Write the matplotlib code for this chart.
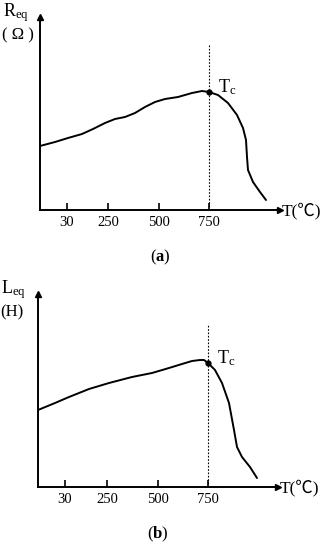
import matplotlib.pyplot as plt

plt.rcParams['font.family'] = ['Liberation Serif', 'Noto Sans CJK SC']
plt.rcParams['mathtext.fontset'] = 'custom'
plt.rcParams['mathtext.rm'] = 'Liberation Serif'
plt.rcParams['mathtext.bf'] = 'Liberation Serif:bold'

# schematic curves (position units along the axes, arbitrary height)
tick_pos_a = [27, 68, 119, 169]
tick_pos_b = [27, 69, 120, 170]
tick_labels = ['30', '250', '500', '750']

r_x = [0, 15, 28, 42, 53, 65, 75, 85, 95, 105, 115, 125, 138, 152, 162, 169,
       178, 188, 197, 203, 206, 207, 208, 213, 220, 226]
r_y = [64, 68, 72, 76, 81, 87, 91, 93, 97, 103, 108, 111, 113, 117, 119, 118,
       115, 107, 95, 82, 70, 53, 40, 28, 18, 10]
r_tc = (169, 118)

l_x = [0, 17, 31, 51, 71, 94, 114, 131, 144, 154, 162, 166, 170,
       177, 184, 191, 196, 199, 204, 212, 219]
l_y = [77, 84, 90, 98, 104, 110, 114, 119, 123, 126, 127, 127, 124,
       117, 104, 84, 57, 40, 30, 20, 9]
l_tc = (170, 124)

panels = [
    # origin_px, curve, Tc, ticks, ylabel, unit, caption, dotted top
    ((40, 210), r_x, r_y, r_tc, tick_pos_a, r'$\mathrm{R_{eq}}$', '( Ω )', 'a', 165),
    ((38, 487), l_x, l_y, l_tc, tick_pos_b, r'$\mathrm{L_{eq}}$', '(H)', 'b', 163),
]

W, H = 320, 550
fig = plt.figure(figsize=(3.2, 5.5), dpi=100)

for (ox, oy), xs, ys, tc, ticks, ylab, unit, cap, dtop in panels:
    ax = fig.add_axes([ox / W, (H - oy) / H, 240 / W, 193 / H])
    ax.set_xlim(0, 240)
    ax.set_ylim(0, 193)
    for s in ['top', 'right']:
        ax.spines[s].set_visible(False)
    for s in ['left', 'bottom']:
        ax.spines[s].set_linewidth(1.4)
    ax.plot(1, 0, '>k', ms=5, transform=ax.get_yaxis_transform(), clip_on=False)
    ax.plot(0, 1, '^k', ms=5, transform=ax.get_xaxis_transform(), clip_on=False)

    ax.plot(xs, ys, color='black', lw=1.4, solid_joinstyle='round', solid_capstyle='round')
    ax.plot([tc[0], tc[0]], [0, dtop], color='black', lw=0.8, ls=(0, (1.5, 1.5)))
    ax.plot(tc[0], tc[1], 'o', color='black', ms=3.5)
    ax.text(tc[0] + 9, tc[1] + 5, r'$\mathrm{T_c}$', fontsize=13, va='center', ha='left')

    ax.set_xticks(ticks)
    ax.set_xticklabels(tick_labels, fontsize=10.5)
    ax.set_yticks([])
    ax.tick_params(axis='x', direction='in', length=5, width=1.2, pad=4)

    ax.text(-37, 197, ylab, fontsize=13, ha='left', va='center')
    ax.text(-38, 175, unit, fontsize=12, ha='left', va='center')
    ax.text(242, -1, 'T(℃)', fontsize=12.5, ha='left', va='center')
    ax.text(120, -47, '($\\mathbf{%s}$)' % cap, fontsize=12, ha='center', va='center')

fig.savefig('out.png', dpi=100)
